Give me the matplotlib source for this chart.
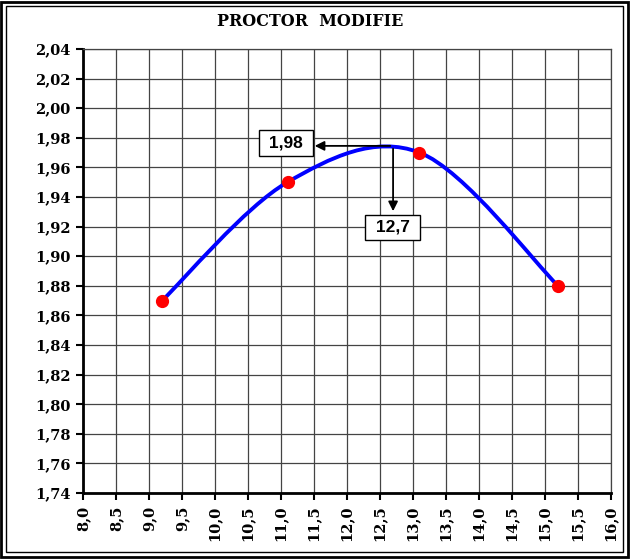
import matplotlib
matplotlib.use('Agg')
import matplotlib.pyplot as plt
from matplotlib.path import Path
from matplotlib.patches import PathPatch, Rectangle
from matplotlib.ticker import FuncFormatter, MultipleLocator

# Data
water = [9.2, 11.1, 13.1, 15.2]          # teneur en eau (%)
density = [1.87, 1.95, 1.97, 1.88]       # densité sèche
opt_w = 12.7
opt_d = 1.98
opt_d_line = 1.9745

fig = plt.figure(figsize=(6.31, 5.59), dpi=100)
ax = fig.add_axes([0.1315, 0.118, 0.8365, 0.7945])

# Excel-style smoothed line (cubic Bezier segments through the points)
n = len(water)
verts = [(water[0], density[0])]
codes = [Path.MOVETO]
for i in range(n - 1):
    p0 = (water[max(i - 1, 0)], density[max(i - 1, 0)])
    p1 = (water[i], density[i])
    p2 = (water[i + 1], density[i + 1])
    p3 = (water[min(i + 2, n - 1)], density[min(i + 2, n - 1)])
    c1 = (p1[0] + (p2[0] - p0[0]) / 6, p1[1] + (p2[1] - p0[1]) / 6)
    c2 = (p2[0] - (p3[0] - p1[0]) / 6, p2[1] - (p3[1] - p1[1]) / 6)
    verts += [c1, c2, p2]
    codes += [Path.CURVE4] * 3
ax.add_patch(PathPatch(Path(verts, codes), facecolor='none', edgecolor='#0000ff',
                       linewidth=2.8, zorder=3, capstyle='round'))
ax.plot(water, density, 'o', color='#ff0000', markersize=8.5, zorder=4)

ax.set_xlim(8, 16)
ax.set_ylim(1.74, 2.04)
ax.xaxis.set_major_locator(MultipleLocator(0.5))
ax.yaxis.set_major_locator(MultipleLocator(0.02))
ax.xaxis.set_major_formatter(FuncFormatter(lambda v, p: f'{v:.1f}'.replace('.', ',')))
ax.yaxis.set_major_formatter(FuncFormatter(lambda v, p: f'{v:.2f}'.replace('.', ',')))
ax.grid(True, color='#444444', linewidth=0.9)
ax.set_axisbelow(True)

for s in ['left', 'bottom']:
    ax.spines[s].set_linewidth(2)
for s in ['top', 'right']:
    ax.spines[s].set_linewidth(0.9)
    ax.spines[s].set_color('#444444')

ax.tick_params(direction='out', length=5, width=1.5, color='black', pad=4)
for lab in ax.get_xticklabels() + ax.get_yticklabels():
    lab.set_fontfamily('DejaVu Serif')
    lab.set_fontweight('bold')
    lab.set_fontsize(10.5)
for lab in ax.get_xticklabels():
    lab.set_rotation(90)

# optimum annotations
ax.annotate('', xy=(11.47, opt_d_line), xytext=(opt_w, opt_d_line),
            arrowprops=dict(arrowstyle='-|>', color='black', lw=1.3, mutation_scale=14))
ax.annotate('', xy=(opt_w, 1.9285), xytext=(opt_w, opt_d_line),
            arrowprops=dict(arrowstyle='-|>', color='black', lw=1.3, mutation_scale=14))
box = dict(boxstyle='square,pad=0.3', facecolor='white', edgecolor='black', linewidth=1)
ax.text(11.07, 1.9765, ' ' + f'{opt_d:.2f}'.replace('.', ',') + ' ', ha='center', va='center',
        fontfamily='Liberation Sans', fontweight='bold', fontsize=12.5, bbox=box, zorder=5)
ax.text(12.69, 1.9195, ' ' + f'{opt_w:.1f}'.replace('.', ',') + ' ', ha='center', va='center',
        fontfamily='Liberation Sans', fontweight='bold', fontsize=12.5, bbox=box, zorder=5)

fig.text(310 / 631, 1 - 21 / 559, 'PROCTOR  MODIFIE', ha='center', va='center',
         fontfamily='DejaVu Serif', fontweight='bold', fontsize=11.5)

# double frame around the chart area
fig.patches.append(Rectangle((0.002, 0.004), 0.993, 0.992, transform=fig.transFigure,
                             fill=False, edgecolor='black', linewidth=2))
fig.patches.append(Rectangle((0.009, 0.012), 0.979, 0.978, transform=fig.transFigure,
                             fill=False, edgecolor='black', linewidth=1))

fig.savefig('out.png', dpi=100)
